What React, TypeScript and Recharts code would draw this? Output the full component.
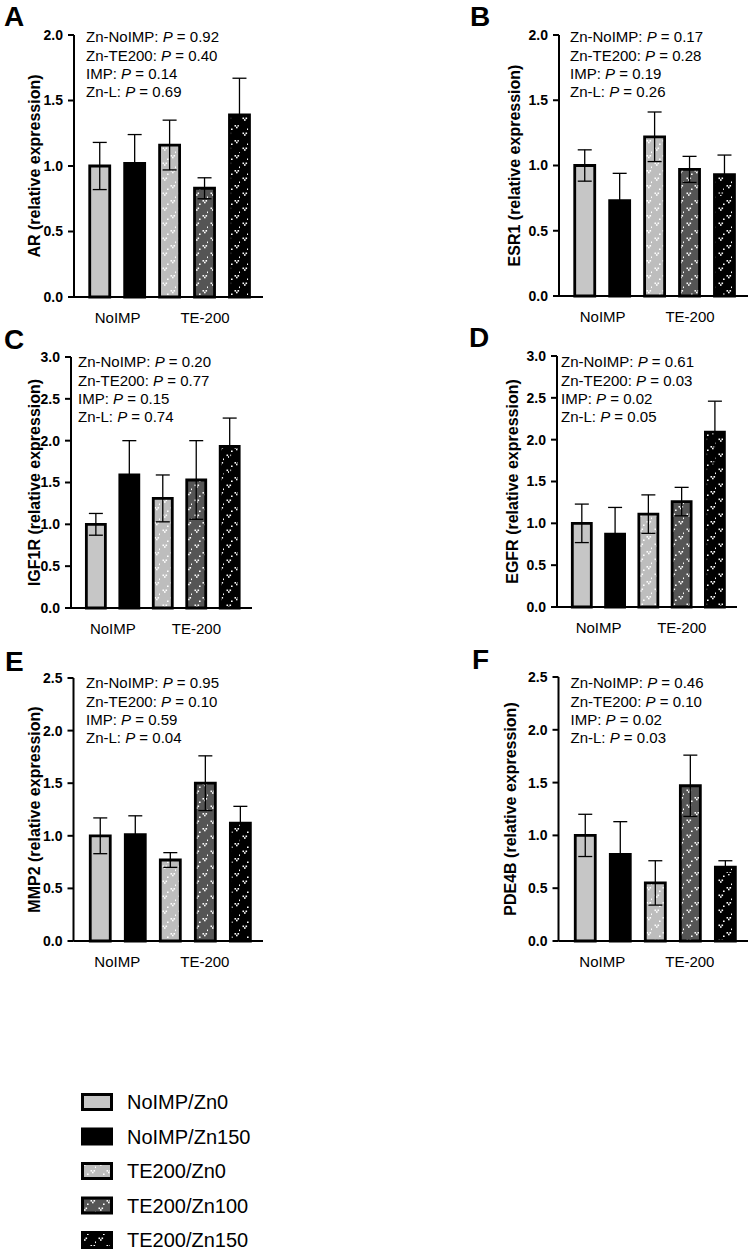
import React from 'react';
import { BarChart, Bar, XAxis, YAxis, ErrorBar, Cell } from 'recharts';

const FONT = '"Liberation Sans", Arial, Helvetica, sans-serif';

// ---------- data ----------
const groups = ['NoIMP/Zn0', 'NoIMP/Zn150', 'TE200/Zn0', 'TE200/Zn100', 'TE200/Zn150'];
const groupX = [0, 1, 2, 3, 4];
const xTickValues = [0.5, 3];
const xTickLabels = ['NoIMP', 'TE-200'];
const pLabels = ['Zn-NoIMP', 'Zn-TE200', 'IMP', 'Zn-L'];

const ticks20 = [0, 0.5, 1, 1.5, 2];
const ticks25 = [0, 0.5, 1, 1.5, 2, 2.5];
const ticks30 = [0, 0.5, 1, 1.5, 2, 2.5, 3];

const arMean = [1.0, 1.02, 1.16, 0.83, 1.39];
const arSem = [0.18, 0.22, 0.19, 0.08, 0.28];
const arP = ['0.92', '0.40', '0.14', '0.69'];

const esr1Mean = [1.0, 0.73, 1.22, 0.97, 0.93];
const esr1Sem = [0.12, 0.21, 0.19, 0.1, 0.15];
const esr1P = ['0.17', '0.28', '0.19', '0.26'];

const igf1rMean = [1.0, 1.59, 1.31, 1.53, 1.93];
const igf1rSem = [0.13, 0.41, 0.28, 0.47, 0.34];
const igf1rP = ['0.20', '0.77', '0.15', '0.74'];

const egfrMean = [1.0, 0.87, 1.11, 1.26, 2.09];
const egfrSem = [0.23, 0.32, 0.23, 0.17, 0.37];
const egfrP = ['0.61', '0.03', '0.02', '0.05'];

const mmp2Mean = [1.0, 1.01, 0.77, 1.5, 1.12];
const mmp2Sem = [0.17, 0.18, 0.07, 0.26, 0.16];
const mmp2P = ['0.95', '0.10', '0.59', '0.04'];

const pde4bMean = [1.0, 0.82, 0.55, 1.47, 0.7];
const pde4bSem = [0.2, 0.31, 0.21, 0.29, 0.06];
const pde4bP = ['0.46', '0.10', '0.02', '0.03'];

const fills = ['#c6c6c6', '#000000', 'url(#patLight)', 'url(#patDark)', 'url(#patBlack)'];

// ---------- layout ----------
const panels = [
  { letter: 'A', gene: 'AR', mean: arMean, sem: arSem, p: arP, yMax: 2, yTicks: ticks20,
    left: 0, axisX: 74, plotRight: 263, plotTop: 35, plotBottom: 297, labelX: 34.5,
    letterX: 4, letterTop: 7, pX: 86, pTop: 32, barSize: 20 },
  { letter: 'B', gene: 'ESR1', mean: esr1Mean, sem: esr1Sem, p: esr1P, yMax: 2, yTicks: ticks20,
    left: 460, axisX: 559, plotRight: 748, plotTop: 35, plotBottom: 296, labelX: 514,
    letterX: 470, letterTop: 7, pX: 570, pTop: 32, barSize: 20 },
  { letter: 'C', gene: 'IGF1R', mean: igf1rMean, sem: igf1rSem, p: igf1rP, yMax: 3, yTicks: ticks30,
    left: 0, axisX: 71, plotRight: 252, plotTop: 357, plotBottom: 608, labelX: 34,
    letterX: 4, letterTop: 330, pX: 78, pTop: 357, barSize: 19 },
  { letter: 'D', gene: 'EGFR', mean: egfrMean, sem: egfrSem, p: egfrP, yMax: 3, yTicks: ticks30,
    left: 460, axisX: 557, plotRight: 737, plotTop: 356, plotBottom: 607, labelX: 512,
    letterX: 469, letterTop: 328, pX: 561, pTop: 357, barSize: 19 },
  { letter: 'E', gene: 'MMP2', mean: mmp2Mean, sem: mmp2Sem, p: mmp2P, yMax: 2.5, yTicks: ticks25,
    left: 0, axisX: 73.5, plotRight: 263, plotTop: 678, plotBottom: 941, labelX: 34,
    letterX: 5, letterTop: 652, pX: 86, pTop: 678, barSize: 20 },
  { letter: 'F', gene: 'PDE4B', mean: pde4bMean, sem: pde4bSem, p: pde4bP, yMax: 2.5, yTicks: ticks25,
    left: 460, axisX: 558.5, plotRight: 748, plotTop: 677, plotBottom: 941, labelX: 510,
    letterX: 472, letterTop: 650, pX: 570.5, pTop: 678, barSize: 20 },
];

function Pixels({ fill }: { fill: string }) {
  const marks: [number, number][] = [
    [2.5, 2.5], [5.5, 2.5], [4, 4.2],
    [10.5, 10], [13.5, 10], [12, 11.7],
    [15, 6.5], [7, 13.5],
  ];
  return (
    <>
      {marks.map(([x, y], i) => (
        <rect key={i} x={x} y={y} width={1.6} height={1.6} fill={fill} />
      ))}
    </>
  );
}

function PatternDefs() {
  return (
    <svg width={0} height={0} style={{ position: 'absolute', left: 0, top: 0 }}>
      <defs>
        <pattern id="patLight" width={16} height={15} patternUnits="userSpaceOnUse">
          <rect width={16} height={15} fill="#bdbdbd" />
          <Pixels fill="#ffffff" />
        </pattern>
        <pattern id="patDark" width={16} height={15} patternUnits="userSpaceOnUse">
          <rect width={16} height={15} fill="#555555" />
          <Pixels fill="#ffffff" />
        </pattern>
        <pattern id="patBlack" width={16} height={15} patternUnits="userSpaceOnUse">
          <rect width={16} height={15} fill="#000000" />
          <Pixels fill="#ffffff" />
        </pattern>
      </defs>
    </svg>
  );
}

function Panel({ cfg }: { cfg: any }) {
  const data = groupX.map((x, i) => ({ x, v: cfg.mean[i], e: cfg.sem[i], name: groups[i] }));
  const top = cfg.plotTop - 10;
  const height = cfg.plotBottom - cfg.plotTop + 10 + 35;
  const width = cfg.plotRight - cfg.left + 2;
  const cx = cfg.labelX - cfg.left;
  const yLabel = (props: any) => {
    const vb = props.viewBox || {};
    const cy = (vb.y ?? 10) + (vb.height ?? 0) / 2;
    return (
      <text
        x={cx}
        y={cy}
        transform={`rotate(-90 ${cx} ${cy})`}
        textAnchor="middle"
        dominantBaseline="central"
        fontFamily={FONT}
        fontWeight={700}
        fontSize={16}
        fill="#000"
      >
        {cfg.gene} (relative expression)
      </text>
    );
  };
  return (
    <div style={{ position: 'absolute', left: cfg.left, top }}>
      <BarChart width={width} height={height} data={data} margin={{ top: 10, right: 2, bottom: 0, left: 0 }}>
        <XAxis
          dataKey="x"
          type="number"
          domain={[-0.75, 4.66]}
          allowDataOverflow
          ticks={xTickValues}
          interval={0}
          tickFormatter={(v: number) => xTickLabels[xTickValues.indexOf(v)] ?? ''}
          tickLine={false}
          tickSize={6}
          tickMargin={9}
          axisLine={{ stroke: '#000', strokeWidth: 2 }}
          tick={{ fill: '#000', fontSize: 15, fontFamily: FONT }}
          height={35}
        />
        <YAxis
          type="number"
          domain={[0, cfg.yMax]}
          ticks={cfg.yTicks}
          interval={0}
          width={cfg.axisX - cfg.left}
          tickFormatter={(v: number) => v.toFixed(1)}
          axisLine={{ stroke: '#000', strokeWidth: 2 }}
          tickLine={{ stroke: '#000', strokeWidth: 2 }}
          tickSize={6}
          tickMargin={5}
          tick={{ fill: '#000', fontSize: 14, fontWeight: 700, fontFamily: FONT }}
          label={yLabel}
        />
        <Bar dataKey="v" barSize={cfg.barSize} stroke="#000" strokeWidth={2.8} isAnimationActive={false}>
          {data.map((d, i) => (
            <Cell key={i} fill={fills[i]} />
          ))}
          <ErrorBar dataKey="e" width={7} stroke="#000" strokeWidth={1.3} direction="y" />
        </Bar>
      </BarChart>
    </div>
  );
}

function PText({ cfg }: { cfg: any }) {
  return (
    <div
      style={{
        position: 'absolute',
        left: cfg.pX,
        top: cfg.pTop - 3.6,
        fontFamily: FONT,
        fontSize: 15,
        lineHeight: '18.3px',
        color: '#000',
        whiteSpace: 'nowrap',
      }}
    >
      {pLabels.map((l, i) => (
        <div key={l}>
          {l}: <i>P</i> = {cfg.p[i]}
        </div>
      ))}
    </div>
  );
}

function Letter({ cfg }: { cfg: any }) {
  return (
    <div
      style={{
        position: 'absolute',
        left: cfg.letterX,
        top: cfg.letterTop - 3.65,
        fontFamily: FONT,
        fontWeight: 700,
        fontSize: 28,
        lineHeight: '28px',
        color: '#000',
      }}
    >
      {cfg.letter}
    </div>
  );
}

function LegendBlock() {
  return (
    <svg width={300} height={170} style={{ position: 'absolute', left: 0, top: 1085 }}>
      {groups.map((g, i) => {
        const cy = 17 + i * 34.5;
        return (
          <g key={g}>
            <rect x={82.5} y={cy - 7.5} width={29} height={15} fill={fills[i]} stroke="#000" strokeWidth={3} />
            <text x={127} y={cy} dominantBaseline="central" fontFamily={FONT} fontSize={20} fill="#000">
              {g}
            </text>
          </g>
        );
      })}
    </svg>
  );
}

export default function App() {
  return (
    <div
      style={{
        position: 'absolute',
        left: 0,
        top: 0,
        width: 751,
        height: 1250,
        overflow: 'hidden',
        background: '#fff',
      }}
    >
      <PatternDefs />
      {panels.map((cfg) => (
        <Panel key={cfg.letter} cfg={cfg} />
      ))}
      {panels.map((cfg) => (
        <PText key={'p' + cfg.letter} cfg={cfg} />
      ))}
      {panels.map((cfg) => (
        <Letter key={'l' + cfg.letter} cfg={cfg} />
      ))}
      <LegendBlock />
    </div>
  );
}
